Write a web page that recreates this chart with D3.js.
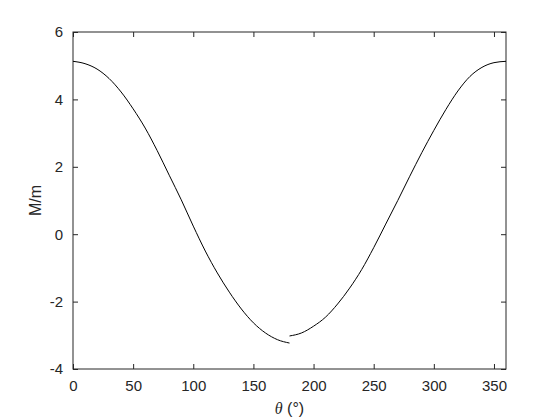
<!DOCTYPE html>
<html>
<head>
<meta charset="utf-8">
<script src="https://cdn.jsdelivr.net/npm/d3@7"></script>
<style>
  body { margin: 0; background: #fff; }
  text { font-family: "Liberation Sans", Arial, sans-serif; }
</style>
</head>
<body>
<script>
// angles (deg) and M/m values, two branches split at 180
var thetaLeft = [0, 10, 20, 30, 40, 50, 60, 70, 80, 90, 100, 110, 120, 130, 140, 150, 160, 170, 180];
var valueLeft = [5.13, 5.06, 4.90, 4.62, 4.22, 3.72, 3.15, 2.48, 1.75, 1.02, 0.24, -0.50, -1.15, -1.72, -2.22, -2.63, -2.93, -3.13, -3.23];
var thetaRight = [180, 190, 200, 210, 220, 230, 240, 250, 260, 270, 280, 290, 300, 310, 320, 330, 340, 350, 360];
var valueRight = [-3.02, -2.93, -2.73, -2.46, -2.07, -1.60, -1.05, -0.40, 0.30, 1.00, 1.72, 2.42, 3.08, 3.70, 4.25, 4.68, 4.95, 5.09, 5.13];
var xTicks = [0, 50, 100, 150, 200, 250, 300, 350];
var yTicks = [-4, -2, 0, 2, 4, 6];

var margin = {top: 32, right: 54, bottom: 51, left: 73},
    width = 560 - margin.left - margin.right,
    height = 420 - margin.top - margin.bottom;

var axisColor = "#262626";

var svg = d3.select("body").append("svg")
    .attr("width", 560)
    .attr("height", 420)
  .append("g")
    .attr("transform", "translate(" + margin.left + "," + margin.top + ")");

var x = d3.scaleLinear().domain([0, 360]).range([0, width]);
var y = d3.scaleLinear().domain([-4, 6]).range([height, 0]);

// plain hyphen for negatives, like matlab
var fmt = function(d) { return String(d); };

// axes, ticks pointing inwards like matlab
function styleAxis(g) {
  g.select(".domain").remove();
  g.selectAll("line").attr("stroke", axisColor);
  g.selectAll("text").attr("fill", axisColor).style("font-size", "15px");
}

svg.append("g")
    .attr("transform", "translate(0," + height + ")")
    .call(d3.axisBottom(x).tickValues(xTicks).tickSize(-5).tickPadding(11).tickFormat(fmt))
    .call(styleAxis);

svg.append("g")
    .call(d3.axisTop(x).tickValues(xTicks).tickSize(-5).tickFormat(""))
    .call(styleAxis);

svg.append("g")
    .call(d3.axisLeft(y).tickValues(yTicks).tickSize(-5).tickPadding(10).tickFormat(fmt))
    .call(styleAxis);

svg.append("g")
    .attr("transform", "translate(" + width + ",0)")
    .call(d3.axisRight(y).tickValues(yTicks).tickSize(-5).tickFormat(""))
    .call(styleAxis);

// box
svg.append("rect")
    .attr("width", width)
    .attr("height", height)
    .attr("fill", "none")
    .attr("stroke", axisColor)
    .attr("stroke-width", 1);

// the two branches
var line = d3.line()
    .x(function(d) { return x(d[0]); })
    .y(function(d) { return y(d[1]); })
    .curve(d3.curveMonotoneX);

[[thetaLeft, valueLeft], [thetaRight, valueRight]].forEach(function(s) {
  svg.append("path")
      .datum(d3.zip(s[0], s[1]))
      .attr("fill", "none")
      .attr("stroke", "#000")
      .attr("stroke-width", 1)
      .attr("d", line);
});

// axis labels
var xl = svg.append("text")
    .attr("x", width / 2)
    .attr("y", height + 45)
    .attr("text-anchor", "middle")
    .attr("fill", axisColor)
    .style("font-size", "16px");
xl.append("tspan").style("font-family", "'Liberation Serif', serif").style("font-style", "italic").text("θ");
xl.append("tspan").text(" (°)");

svg.append("text")
    .attr("transform", "translate(-32," + (height / 2) + ") rotate(-90)")
    .attr("text-anchor", "middle")
    .attr("fill", axisColor)
    .style("font-size", "16px")
    .text("M/m");
</script>
</body>
</html>
